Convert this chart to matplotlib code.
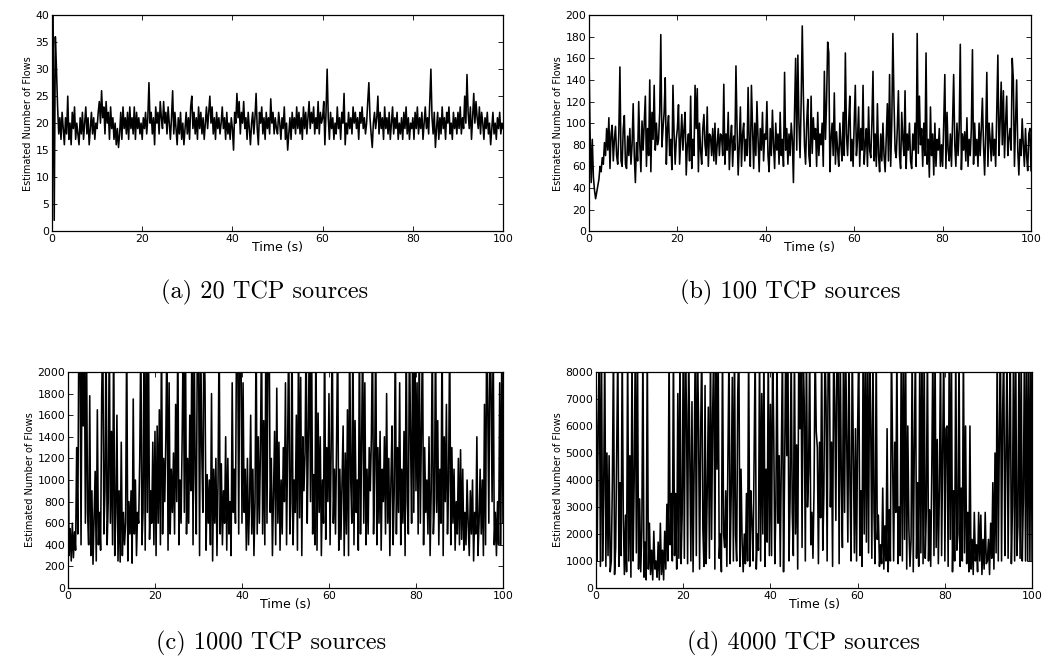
import numpy as np
import matplotlib.pyplot as plt

# (a) 20 TCP sources, 0.25 s samples
flows_20 = [0, 40, 2, 36, 30, 23, 18, 21, 17, 22, 19, 16, 21, 18, 25, 17, 20, 16, 22, 19,
            23, 17, 20, 18, 16, 21, 18, 22, 17, 20, 23, 18, 21, 16, 19, 22, 18, 21, 17, 20,
            19, 22, 24, 20, 26, 21, 23, 18, 24, 20, 22, 17, 23, 19, 21, 17, 20, 16, 19, 15.5,
            18, 22, 17, 23, 19, 21, 18, 22, 17, 23, 19, 21, 18, 23, 17, 22, 19, 21, 18, 20,
            17, 21, 19, 22, 18, 21, 27.5, 20, 22, 18, 21, 16, 23, 20, 22, 18, 24, 21, 19, 24,
            20, 22, 18, 23, 20, 17, 21, 26, 18, 22, 19, 16, 21, 18, 22, 17, 20, 16, 19, 22,
            18, 21, 17, 23, 25, 19, 22, 18, 21, 17, 23, 19, 22, 18, 21, 17, 20, 23, 19, 22,
            25, 20, 23, 18, 21, 17, 22, 19, 21, 18, 20, 23, 19, 21, 17, 22, 18, 20, 17, 21,
            19, 15, 22, 20, 25.5, 21, 24, 18, 22, 20, 24, 19, 21, 17, 22, 19, 16, 20, 22, 18,
            21, 25.5, 19, 16, 22, 20, 23, 18, 21, 17, 22, 19, 21, 18, 24.5, 20, 22, 18, 21, 19,
            18, 22, 20, 17, 21, 19, 23, 17, 20, 15, 18, 21, 17, 22, 19, 21, 18, 23, 19, 22,
            18, 21, 17, 23, 19, 22, 18, 21, 24, 19, 22, 20, 23, 18, 21, 19, 24, 18, 22, 20,
            21, 24, 16, 22, 30, 21, 17, 22, 19, 21, 17, 20, 18, 23, 19, 21, 17, 22, 20, 25.5,
            16, 20, 18, 22, 19, 21, 18, 23, 20, 22, 19, 21, 17, 22, 20, 23, 19, 21, 18, 20,
            24, 27.5, 21, 18, 15.5, 20, 22, 19, 21, 25, 18, 22, 19, 21, 17, 23, 19, 21, 18, 22,
            17, 20, 23, 18, 21, 19, 22, 17, 20, 18, 21, 17, 22, 19, 23, 18, 21, 17, 20, 19,
            21, 17, 22, 19, 23, 18, 21, 19, 22, 17, 20, 23, 19, 21, 18, 24, 30, 21, 18, 22,
            15.5, 19, 22, 17, 21, 18, 23, 19, 21, 17, 22, 20, 23, 18, 20, 17, 22, 19, 21, 18,
            22, 19, 23, 18, 21, 19, 25, 20, 29, 22, 19, 23, 17, 21, 25.5, 20, 24, 21, 19, 23,
            18, 22, 20, 17, 21, 19, 22, 18, 20, 16, 19, 22, 18, 20, 17, 21, 19, 22, 18, 20, 19]

# (b) 100 TCP sources, 0.25 s samples
flows_100 = [165, 90, 45, 85, 50, 38, 30, 36, 42, 48, 60, 55, 68, 62, 82, 70, 95, 75, 105, 58,
             90, 98, 65, 85, 97, 70, 62, 90, 152, 65, 60, 95, 107, 62, 58, 88, 70, 95, 62, 80,
             118, 70, 45, 82, 65, 120, 80, 55, 102, 75, 100, 125, 60, 95, 70, 140, 55, 110, 85, 135,
             75, 100, 80, 85, 110, 182, 78, 95, 110, 142, 62, 95, 107, 70, 85, 57, 135, 90, 62, 85,
             95, 117, 62, 85, 108, 75, 95, 110, 52, 80, 90, 65, 125, 58, 85, 70, 135, 95, 132, 55,
             100, 75, 62, 95, 108, 80, 70, 115, 60, 90, 88, 70, 95, 65, 100, 62, 80, 95, 70, 90,
             88, 70, 136, 62, 90, 75, 110, 57, 85, 98, 60, 88, 75, 153, 95, 52, 80, 115, 60, 90,
             100, 65, 85, 70, 133, 80, 60, 135, 95, 58, 100, 70, 120, 85, 55, 95, 75, 110, 65, 90,
             85, 120, 70, 55, 95, 70, 112, 80, 58, 100, 75, 90, 62, 110, 70, 85, 60, 147, 75, 95,
             62, 90, 70, 100, 85, 45, 110, 160, 75, 163, 100, 68, 120, 190, 125, 80, 62, 100, 122, 70,
             60, 125, 72, 105, 85, 95, 60, 110, 70, 90, 80, 100, 60, 148, 85, 120, 175, 165, 55, 85,
             100, 70, 128, 62, 92, 75, 60, 100, 80, 65, 110, 70, 165, 90, 70, 100, 125, 65, 85, 60,
             100, 135, 70, 85, 115, 60, 95, 75, 135, 62, 80, 95, 60, 115, 75, 68, 100, 148, 65, 90,
             60, 118, 70, 55, 90, 65, 100, 70, 55, 85, 118, 65, 145, 60, 100, 183, 120, 75, 68, 95,
             130, 70, 58, 110, 85, 70, 130, 58, 90, 75, 100, 65, 58, 90, 75, 100, 60, 183, 72, 125,
             80, 95, 60, 100, 70, 165, 62, 85, 50, 115, 70, 90, 52, 100, 60, 85, 75, 95, 60, 80,
             60, 100, 145, 58, 110, 75, 65, 90, 60, 100, 145, 80, 60, 100, 70, 95, 173, 57, 90, 75,
             92, 65, 105, 60, 85, 70, 95, 168, 62, 100, 70, 85, 60, 100, 70, 95, 123, 80, 52, 90,
             147, 60, 100, 85, 65, 100, 70, 85, 60, 110, 163, 70, 100, 138, 80, 130, 68, 100, 125, 70,
             85, 95, 75, 160, 140, 60, 100, 140, 75, 52, 85, 70, 104, 80, 60, 95, 70, 56, 90, 95, 56]

# (c) 1000 TCP sources, 0.25 s samples (values above 2000 are cut off by the axis)
flows_1000 = [1750, 300, 550, 250, 600, 280, 520, 350, 1300, 500, 2400, 2400, 400, 2400, 1500, 2400, 600, 2400, 700, 400,
              1780, 300, 900, 220, 650, 1080, 250, 1650, 400, 700, 350, 1780, 2400, 500, 900, 2400, 400, 800, 2400, 600,
              1450, 400, 2400, 300, 700, 1600, 250, 900, 240, 1350, 300, 700, 400, 600, 2400, 250, 800, 500, 900, 230,
              1750, 500, 1000, 300, 700, 600, 1200, 2400, 400, 700, 2400, 350, 2400, 700, 2400, 450, 900, 600, 1350, 400,
              1450, 300, 1500, 600, 1650, 400, 2400, 500, 1200, 800, 1400, 2400, 350, 1900, 500, 1100, 700, 1250, 500, 1700,
              800, 2400, 400, 1000, 600, 1400, 2400, 700, 2400, 500, 1200, 600, 1600, 900, 2400, 400, 2400, 1050, 500, 2400,
              2400, 300, 2400, 1300, 700, 2400, 1900, 350, 1050, 600, 1000, 400, 1800, 250, 1100, 600, 1200, 300, 1000, 2400,
              500, 1150, 400, 900, 600, 1400, 350, 1200, 500, 800, 300, 1900, 700, 1100, 600, 2400, 2400, 500, 2400, 2400,
              600, 1900, 700, 1100, 350, 1200, 400, 800, 1600, 500, 1100, 300, 800, 2400, 500, 1400, 600, 1300, 2400, 500,
              1550, 400, 2400, 600, 2400, 2400, 700, 1200, 300, 900, 1450, 400, 1850, 600, 1350, 350, 1000, 500, 1300, 800,
              1900, 400, 1350, 2400, 500, 800, 2400, 400, 1000, 700, 1600, 350, 2400, 650, 1950, 300, 1400, 900, 1250, 2400,
              600, 1400, 2400, 800, 2400, 500, 1050, 400, 2400, 350, 1620, 700, 1400, 300, 1000, 600, 2400, 450, 1300, 800,
              1800, 400, 1300, 2400, 600, 1100, 500, 1350, 2400, 350, 1100, 450, 1000, 1500, 300, 1250, 500, 1650, 300, 2400,
              1000, 600, 2400, 400, 1550, 700, 1000, 350, 2400, 500, 1300, 2400, 600, 1900, 400, 1100, 500, 1300, 900, 1400,
              2400, 500, 1100, 2400, 400, 1300, 600, 1450, 350, 1100, 800, 1400, 500, 1800, 600, 1200, 300, 1000, 1500, 400,
              900, 2400, 500, 1300, 700, 1900, 400, 1100, 600, 1450, 300, 2400, 800, 500, 2400, 1400, 600, 2400, 700, 2400,
              900, 1900, 500, 2400, 600, 1450, 2400, 400, 1300, 700, 1000, 500, 1400, 300, 900, 2400, 500, 800, 2400, 700,
              1550, 400, 1100, 600, 2400, 300, 1400, 800, 1700, 500, 1000, 2400, 400, 1300, 600, 1100, 350, 800, 500, 1200,
              400, 1280, 450, 1100, 350, 700, 400, 1000, 600, 300, 900, 500, 1000, 250, 700, 500, 1400, 300, 600, 1100,
              500, 1000, 300, 1700, 400, 2400, 1700, 600, 2400, 1900, 800, 2400, 400, 700, 300, 800, 400, 1900, 400, 2400, 600]

# (d) 4000 TCP sources, 0.25 s samples (values above 8000 are cut off by the axis)
flows_4000 = [9000, 1000, 6100, 9000, 800, 9000, 1000, 3500, 9000, 800, 5000, 1200, 4900, 600, 1000, 4000, 9000, 500, 1500, 5100,
              9000, 800, 3900, 1200, 9000, 2600, 500, 2700, 600, 9000, 1000, 4900, 400, 9000, 1000, 4000, 9000, 1300, 9000, 700,
              3300, 600, 2100, 9000, 400, 1700, 300, 9000, 700, 2400, 500, 1400, 300, 2100, 700, 1000, 400, 1700, 300, 2400,
              500, 1400, 300, 2100, 700, 3100, 1000, 9000, 1600, 3500, 1000, 9000, 1200, 3500, 700, 7200, 1100, 9000, 900, 2700,
              9000, 1100, 9000, 6500, 900, 9000, 4800, 1000, 6900, 600, 4500, 9000, 1200, 9000, 6300, 700, 5800, 9000, 2200, 800,
              7500, 900, 3600, 6700, 1100, 9000, 1800, 6500, 9000, 700, 9000, 4400, 9000, 1100, 2000, 600, 9000, 2000, 1500, 3600,
              800, 4800, 9000, 900, 3500, 7800, 1000, 9000, 2000, 1000, 7200, 9000, 800, 4400, 1700, 600, 2000, 900, 3500, 1000,
              9000, 800, 3600, 2400, 1000, 4800, 9000, 700, 2000, 1400, 9000, 1000, 7200, 2000, 9000, 800, 4400, 1700, 9000, 1200,
              6800, 1200, 9000, 5800, 900, 3100, 9000, 2400, 4900, 800, 4800, 9000, 600, 4400, 9000, 4900, 9000, 1000, 3300, 9000,
              2800, 1200, 9000, 2000, 5300, 700, 9000, 5900, 9000, 1500, 9000, 6800, 1000, 9000, 3000, 4300, 9000, 1600, 2800, 1100,
              3700, 9000, 5800, 5200, 900, 5400, 2600, 9000, 1400, 3500, 9000, 6800, 1000, 9000, 9000, 3000, 5400, 800, 9000, 6800,
              2500, 9000, 9000, 900, 9000, 4000, 1500, 9000, 2800, 9000, 5400, 1700, 9000, 3700, 1000, 9000, 5100, 1300, 5900, 1000,
              6000, 9000, 1200, 3600, 800, 9000, 2000, 9000, 1700, 9000, 1300, 9000, 6000, 1100, 9000, 2800, 900, 9000, 1800, 2700,
              800, 1600, 900, 3700, 700, 2300, 1000, 5900, 600, 2900, 1000, 9000, 5200, 1000, 5400, 2800, 9000, 900, 3000, 1200,
              9000, 1000, 9000, 1800, 9000, 700, 6000, 2200, 800, 1800, 9000, 600, 5300, 9000, 1100, 3900, 800, 9000, 1300, 9000,
              900, 9000, 1100, 2900, 9000, 1000, 2900, 800, 4400, 9000, 1200, 9000, 1500, 5500, 900, 3700, 9000, 1200, 5100, 9000,
              1000, 5900, 6000, 800, 9000, 1800, 9000, 600, 3600, 1000, 9000, 1400, 2000, 9000, 800, 3700, 1000, 9000, 1300, 6000,
              900, 2800, 600, 6000, 700, 1800, 500, 2800, 1000, 1600, 600, 2800, 1000, 2700, 500, 1800, 700, 2800, 900, 1000,
              1800, 500, 2400, 1100, 3900, 700, 5000, 1300, 9000, 1000, 5700, 9000, 1000, 6500, 9000, 1200, 4800, 9000, 1100, 5300,
              9000, 900, 3000, 9000, 1000, 9000, 1200, 2300, 9000, 1100, 9000, 1000, 3300, 9000, 1000, 9000, 1000, 9000, 1000, 9000, 1000]

series = [flows_20, flows_100, flows_1000, flows_4000]
ymax = [40, 200, 2000, 8000]
ystep = [5, 20, 200, 1000]
captions = ['(a) 20 TCP sources', '(b) 100 TCP sources',
            '(c) 1000 TCP sources', '(d) 4000 TCP sources']

fig = plt.figure(figsize=(10.54, 6.70), dpi=100)

# axes boxes in figure fractions, caption centres
boxes = [[0.0493, 0.655, 0.428, 0.3224], [0.5588, 0.655, 0.4194, 0.3224],
         [0.0645, 0.1224, 0.4127, 0.3224], [0.5655, 0.1224, 0.4137, 0.3224]]
cap_pos = [(0.251, 0.564), (0.750, 0.564), (0.257, 0.040), (0.762, 0.040)]

for i in range(4):
    ax = fig.add_axes(boxes[i])
    y = np.array(series[i], dtype=float)
    t = np.linspace(0, 100, len(y))
    ax.plot(t, y, color='black', lw=1.15)
    ax.set_xlim(0, 100)
    ax.set_ylim(0, ymax[i])
    ax.set_xticks(np.arange(0, 101, 20))
    ax.set_yticks(np.arange(0, ymax[i] + 1, ystep[i]))
    ax.tick_params(direction='in', top=True, right=True, length=3.5, width=0.6,
                   labelsize=7.8, pad=2)
    for lab in ax.get_xticklabels() + ax.get_yticklabels():
        lab.set_family('DejaVu Sans')
    for s in ax.spines.values():
        s.set_linewidth(0.9)
    ax.set_xlabel('Time (s)', family='DejaVu Sans', fontsize=9, labelpad=-2)
    ax.set_ylabel('Estimated Number of Flows', family=['Liberation Sans Narrow', 'DejaVu Sans'],
                  fontsize=7, labelpad=2)
    fig.text(cap_pos[i][0], cap_pos[i][1], captions[i], family='cmr10',
             fontsize=17.5, ha='center', va='center')

plt.savefig('out.png', dpi=100)
